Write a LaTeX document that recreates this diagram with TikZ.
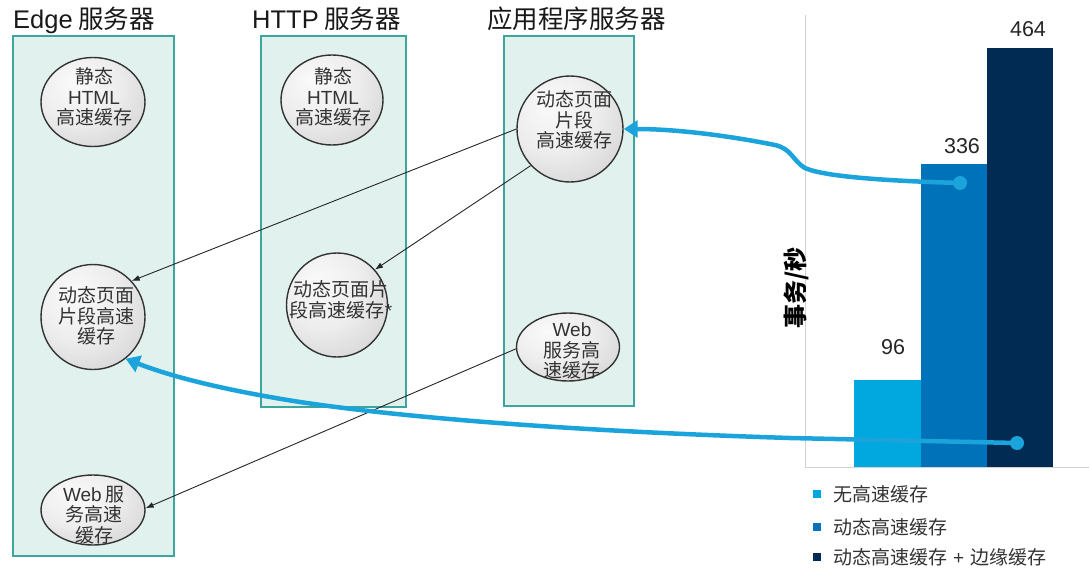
\documentclass[tikz,border=0pt]{standalone}
\usepackage{fontspec}
\setmainfont{Noto Sans CJK SC}
\newfontfamily\ar{Liberation Sans}
\usetikzlibrary{shapes.geometric,arrows.meta}
\definecolor{boxfill}{HTML}{E1F2EE}
\definecolor{boxline}{HTML}{3DA59D}
\definecolor{cblue}{HTML}{1BA3DC}
\definecolor{barA}{HTML}{00A8DF}
\definecolor{barB}{HTML}{0072B9}
\definecolor{barC}{HTML}{022B54}
\definecolor{txt}{HTML}{333333}
\pgfdeclareradialshading{cacheshade}{\pgfpoint{-10bp}{12bp}}{color(0bp)=(black!2); color(20bp)=(black!7); color(38bp)=(black!17); color(55bp)=(black!32); color(75bp)=(black!40)}
\begin{document}
\begin{tikzpicture}[x=1pt,y=-1pt,
 srvbox/.style={draw=boxline, fill=boxfill, line width=1.8pt, anchor=north west, inner sep=0pt},
 cache/.style={ellipse, draw=black!80, line width=1.4pt, inner sep=0pt, shading=cacheshade},
 ctext/.style={align=center, text=txt, font=\fontsize{19}{20.5}\selectfont, inner sep=0pt},
 title/.style={anchor=base west, inner sep=0pt, font=\fontsize{25.5}{28}\selectfont, text=black!90},
 link/.style={-{Latex[length=8pt,width=6pt]}, line width=0.9pt, draw=black!85},
 flow/.style={-{Triangle[length=14pt,width=17pt]}, line width=4.5pt, draw=cblue, line cap=round},
 dot/.style={circle, fill=cblue, inner sep=0pt, minimum size=14pt},
 num/.style={font=\ar\fontsize{21.5}{23}\selectfont, text=black!85, inner sep=0pt},
 legsq/.style={rectangle, inner sep=0pt, minimum size=8pt},
 legtxt/.style={anchor=west, inner sep=0pt, font=\fontsize{19}{21}\selectfont, text=txt}
]
\useasboundingbox (0,0) rectangle (1089,571);
\fill[white] (0,0) rectangle (1089,571);

% titles
\node[title] (t1) at (13,28) {{\ar Edge} 服务器};
\node[title] (t2) at (252,28) {{\ar HTTP} 服务器};
\node[title] (t3) at (487,28) {应用程序服务器};

% server boxes
\node[srvbox, minimum width=161pt, minimum height=520pt] (edgebox) at (12,35) {};
\node[srvbox, minimum width=145pt, minimum height=371pt] (httpbox) at (260,35) {};
\node[srvbox, minimum width=130pt, minimum height=370pt] (appbox) at (503,35) {};

% caches
\node[cache, minimum width=104pt, minimum height=89pt] (es) at (93,102) {};
\node[cache, minimum width=102pt, minimum height=90pt] (hs) at (332,100) {};
\node[cache, minimum width=104pt, minimum height=105pt] (ed) at (93,317) {};
\node[cache, minimum width=101pt, minimum height=104pt] (hd) at (337,305) {};
\node[cache, minimum width=104pt, minimum height=70pt] (ew) at (93,510) {};
\node[cache, minimum width=106pt, minimum height=106pt] (ad) at (570,129) {};
\node[cache, minimum width=103pt, minimum height=68pt] (aw) at (568,347) {};

\node[ctext] (est) at (94,97) {静态\\{\ar HTML}\\高速缓存};
\node[ctext] (hst) at (333,97) {静态\\{\ar HTML}\\高速缓存};
\node[ctext] (edt) at (96,316) {动态页面\\片段高速\\缓存};
\node[ctext] (hdt) at (341,300) {动态页面片\\段高速缓存{\ar *}};
\node[ctext] (ewt) at (94,515) {{\ar Web} 服\\务高速\\缓存};
\node[ctext] (adt) at (574,120) {动态页面\\片段\\高速缓存};
\node[ctext] (awt) at (572,351) {{\ar Web}\\服务高\\速缓存};

% black links
\draw[link] (ad.180) -- (ed.43);
\draw[link] (ad.223) -- (hd.43);
\draw[link] (aw.182) -- (ew.2);

% chart
\draw[gray!35, line width=1pt] (805,15) -- (805,467) -- (1089,467);
\fill[barA] (854,380) rectangle (921,467);
\fill[barB] (921,164) rectangle (987,467);
\fill[barC] (987,48) rectangle (1053,467);
\node[num] (n96) at (893,347) {96};
\node[num] (n336) at (962,146) {336};
\node[num] (n464) at (1028,29) {464};
\node[rotate=90, inner sep=0pt, font=\bfseries\fontsize{24}{26}\selectfont] (ylab) at (796,288) {事务/秒};

% legend
\node[legsq, fill=barA] (lq1) at (817,494) {};
\node[legsq, fill=barB] (lq2) at (817,527) {};
\node[legsq, fill=barC] (lq3) at (817,557) {};
\node[legtxt] (lt1) at (833,494) {无高速缓存};
\node[legtxt] (lt2) at (833,527) {动态高速缓存};
\node[legtxt] (lt3) at (833,557) {动态高速缓存\hspace{6pt}{\ar +}\hspace{6pt}边缘缓存};

% blue flows
\node[dot] (dotA) at (960,183) {};
\node[dot] (dotB) at (1017,443) {};
\draw[flow] (dotA.center) .. controls (890,181) and (825,177) .. (805,168)
  .. controls (792,160) and (792,149) .. (775,145)
  .. controls (720,134) and (670,129) .. (ad.east);
\draw[flow] (dotB.center) -- (790,438) .. controls (600,432) and (420,420) .. (300,402)
  .. controls (230,391) and (175,378) .. (ed.-52);
\end{tikzpicture}
\end{document}
